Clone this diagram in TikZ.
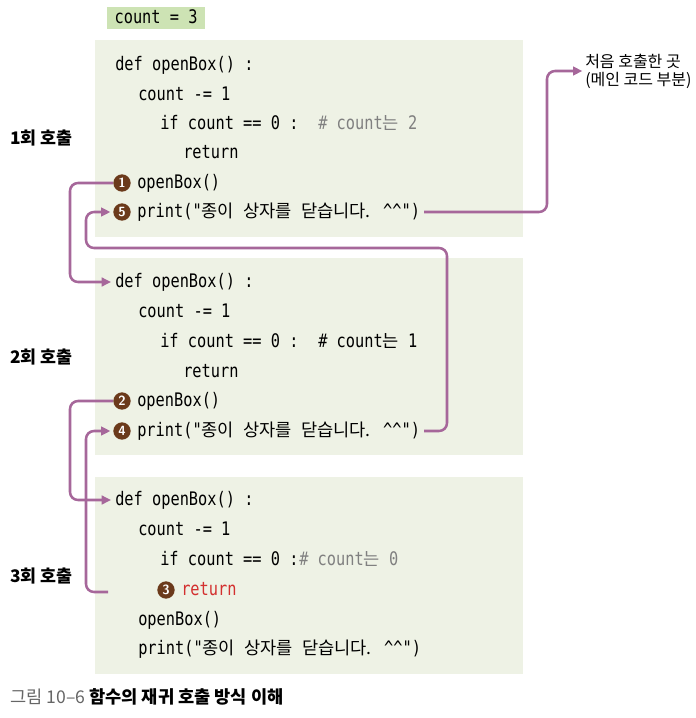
\documentclass[tikz,border=0pt]{standalone}
\usepackage{fontspec}
\newfontfamily\codefont[FakeStretch=0.82]{DejaVu Sans Mono}
\newfontfamily\krfont{Noto Sans CJK KR}
\usetikzlibrary{positioning,arrows.meta}
\definecolor{boxbg}{HTML}{EEF2E5}
\definecolor{initbg}{HTML}{CDE3B4}
\definecolor{flowc}{HTML}{A6679A}
\definecolor{dotc}{HTML}{6B3A1B}
\definecolor{retc}{HTML}{D3302F}
\definecolor{cmtc}{HTML}{808080}
\newcommand{\ko}[1]{{\krfont\fontsize{13.2}{15}\selectfont #1}}
\tikzset{
  code/.style={anchor=west, inner sep=0pt, text height=11pt, text depth=3pt,
    font=\codefont\fontsize{14}{16}\selectfont},
  initbox/.style={code, fill=initbg, inner xsep=5.5pt, inner ysep=1.6pt},
  dot/.style={circle, fill=dotc, text=white, inner sep=0pt, minimum size=13pt,
    font=\sffamily\bfseries\fontsize{10}{10}\selectfont},
  call/.style={anchor=west, font=\krfont\bfseries\fontsize{13}{15}\selectfont, inner sep=0pt},
  note/.style={anchor=west, align=left, inner sep=0pt,
    font=\krfont\fontsize{12}{13.5}\selectfont},
  flow/.style={draw=flowc, line width=1.9pt, rounded corners=6pt,
    -{Triangle[length=7pt,width=6.5pt]}, shorten >=2pt}
}
\begin{document}
\begin{tikzpicture}[x=0.75pt, y=-0.75pt]
\useasboundingbox[fill=white](0,0) rectangle (696,718);
\node[initbox] (init) at (107,18) {count = 3};
\foreach \i/\t/\d in {1/40/65,2/258/282,3/477/500}
{
   \fill[boxbg](95,\t) rectangle (523,\t+197);
   \node[code] (def\i) at (115,\d) {def openBox() :};
   \node[code] (cnt\i) at (138,\d+30) {count -= 1};
}
% first call
\node[code] (if1) at (160,124) {if count == 0 :};
\node[code, text=cmtc] (cmt1) at (318,124) {\# count\ko{는} 2};
\node[code] (ret1) at (183,153) {return};
\node[dot] (n1) at (122,183) {1};
\node[code] (call1) at (137,183) {openBox()};
\node[dot] (n5) at (122,212) {5};
\node[code] (prt1) at (137,212) {print("\ko{종이} \ko{상자를} \ko{닫습니다.} \textasciicircum\textasciicircum")};
% second call
\node[code] (if2) at (160,342) {if count == 0 :};
\node[code] (cmt2) at (318,342) {\# count\ko{는} 1};
\node[code] (ret2) at (183,372) {return};
\node[dot] (n2) at (122,401) {2};
\node[code] (call2) at (137,401) {openBox()};
\node[dot] (n4) at (122,431) {4};
\node[code] (prt2) at (137,431) {print("\ko{종이} \ko{상자를} \ko{닫습니다.} \textasciicircum\textasciicircum")};
% third call
\node[code] (if3) at (160,560) {if count == 0 :};
\node[code, text=cmtc] (cmt3) at (299,560) {\# count\ko{는} 0};
\node[dot] (n3) at (166,590) {3};
\node[code, text=retc] (ret3) at (181,590) {return};
\node[code] (call3) at (138,620) {openBox()};
\node[code] (prt3) at (138,649) {print("\ko{종이} \ko{상자를} \ko{닫습니다.} \textasciicircum\textasciicircum")};
% labels
\node[call] (lab1) at (10,138) {1회 호출};
\node[call] (lab2) at (10,357) {2회 호출};
\node[call] (lab3) at (10,576) {3회 호출};
\node[note] (exit) at (585,71) {처음 호출한 곳\\(메인 코드 부분)};
\node[anchor=west, inner sep=0pt, font=\krfont\fontsize{13.2}{15}\selectfont] (cap) at (10,697)
   {{\color{black!60}그림 10–6} \textbf{함수의 재귀 호출 방식 이해}};
% connectors
\coordinate (railA) at (70,0);
\coordinate (railB) at (86,0);
\coordinate (up1) at (547,0);
\coordinate (up2) at (447,248);
\coordinate (back3) at (108,592);
\draw[flow](n1.west)--(n1.west -| railA)|-([xshift=-1]def2.west);
\draw[flow](n2.west)--(n2.west -| railA)|-([xshift=-1]def3.west);
\draw[flow]([xshift=3]prt1.east)-|(up1 |- exit.west)--(exit.west);
\draw[flow]([xshift=3]prt2.east)-|(up2)-|(railB |- n5.west)--(n5.west);
\draw[flow](back3)-|(railB |- n4.west)--(n4.west);
\end{tikzpicture}
\end{document}
